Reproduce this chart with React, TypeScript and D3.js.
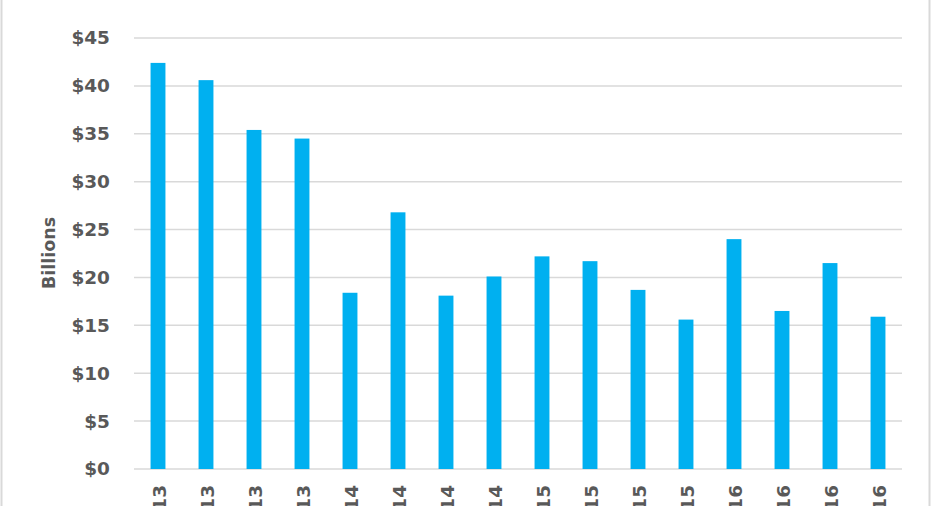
import React from "react";
import * as d3 from "d3";

const categories = [
  "Q1 2013", "Q2 2013", "Q3 2013", "Q4 2013",
  "Q1 2014", "Q2 2014", "Q3 2014", "Q4 2014",
  "Q1 2015", "Q2 2015", "Q3 2015", "Q4 2015",
  "Q1 2016", "Q2 2016", "Q3 2016", "Q4 2016",
];
const values = [42.4, 40.6, 35.4, 34.5, 18.4, 26.8, 18.1, 20.1, 22.2, 21.7, 18.7, 15.6, 24.0, 16.5, 21.5, 15.9];
const yTicks = [0, 5, 10, 15, 20, 25, 30, 35, 40, 45];
const yTitle = "Billions";

const W = 931;
const H = 506;
const plotLeft = 134;
const plotRight = 902;
const plotTop = 38;
const plotBottom = 469;

export default function App() {
  const x = d3
    .scaleBand<string>()
    .domain(categories)
    .range([plotLeft, plotRight])
    .paddingInner(0.69)
    .paddingOuter(0.345);
  const y = d3.scaleLinear().domain([0, 45]).range([plotBottom, plotTop]);
  const font = "'DejaVu Sans', sans-serif";
  return (
    <svg
      width={W}
      height={H}
      style={{ position: "absolute", left: 0, top: 0, background: "#fff" }}
      fontFamily={font}
    >
      <rect x={0} y={0} width={W} height={H} fill="#fff" />
      <line x1={1.5} x2={1.5} y1={0} y2={H} stroke="#d9d9d9" strokeWidth={2} />
      <line x1={929.5} x2={929.5} y1={0} y2={H} stroke="#d9d9d9" strokeWidth={2} />
      {yTicks.map((t) => (
        <g key={t}>
          <line x1={plotLeft} x2={plotRight} y1={y(t)} y2={y(t)} stroke="#d9d9d9" strokeWidth={1.5} />
          <text
            x={110}
            y={y(t)}
            dy="0.35em"
            textAnchor="end"
            fontSize={18.5}
            fontWeight={700}
            fill="#595959"
          >
            {`$${t}`}
          </text>
        </g>
      ))}
      {categories.map((c, i) => (
        <rect
          key={c}
          x={x(c)}
          y={y(values[i])}
          width={x.bandwidth()}
          height={y(0) - y(values[i])}
          fill="#00b0f0"
        />
      ))}
      {categories.map((c) => (
        <text
          key={"l" + c}
          transform={`translate(${(x(c) as number) + x.bandwidth() / 2 + 8},485) rotate(-90)`}
          textAnchor="end"
          fontSize={18.5}
          fontWeight={700}
          fill="#595959"
        >
          {c}
        </text>
      ))}
      <text
        transform={`translate(55,253) rotate(-90)`}
        textAnchor="middle"
        fontSize={17.5}
        fontWeight={700}
        fill="#595959"
      >
        {yTitle}
      </text>
    </svg>
  );
}
